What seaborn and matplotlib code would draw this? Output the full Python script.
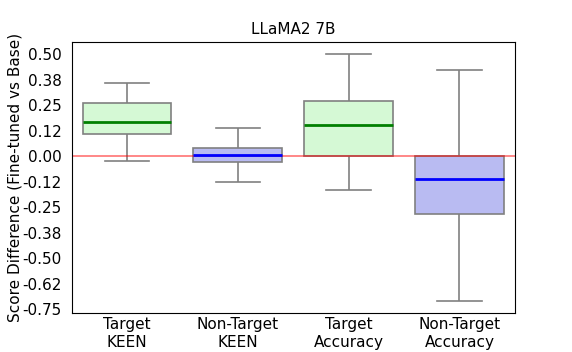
import numpy as np
import pandas as pd
import matplotlib
matplotlib.use("Agg")
import matplotlib.pyplot as plt
import seaborn as sns
from matplotlib.ticker import FixedLocator, FormatStrFormatter

plt.rcParams["axes.unicode_minus"] = False

# five-number summaries: [min, q1, median, q3, max]
categories = ["Target\nKEEN", "Non-Target\nKEEN", "Target\nAccuracy", "Non-Target\nAccuracy"]
target_keen = [-0.023, 0.108, 0.167, 0.261, 0.361]
nontarget_keen = [-0.126, -0.026, 0.006, 0.041, 0.139]
target_acc = [-0.165, 0.0, 0.155, 0.271, 0.500]
nontarget_acc = [-0.709, -0.281, -0.109, 0.0, 0.426]

yticks = np.linspace(-0.75, 0.5, 11)

df = pd.DataFrame({
    "metric": np.repeat(categories, 5),
    "diff": target_keen + nontarget_keen + target_acc + nontarget_acc,
})

fill = {categories[0]: "#d5f9d5", categories[1]: "#b9bbf2",
        categories[2]: "#d5f9d5", categories[3]: "#b9bbf2"}
med_col = ["green", "blue", "green", "blue"]

fig, ax = plt.subplots(figsize=(5.72, 3.52), dpi=100)
sns.boxplot(data=df, x="metric", y="diff", hue="metric", palette=fill, legend=False,
            whis=(0, 100), width=0.8, saturation=1, linecolor="gray", linewidth=1.2,
            medianprops={"linewidth": 2}, ax=ax)

# colour the median lines per box
meds = [l for l in ax.lines if len(l.get_xdata()) == 2 and l.get_ydata()[0] == l.get_ydata()[1]]
for i, data in enumerate([target_keen, nontarget_keen, target_acc, nontarget_acc]):
    for l in meds:
        if abs(l.get_ydata()[0] - data[2]) < 1e-9 and abs(np.mean(l.get_xdata()) - i) < 0.01:
            l.set_color(med_col[i])

ax.axhline(0, color="red", alpha=0.55, linewidth=1.2)
ax.set_ylim(-0.77, 0.56)
ax.yaxis.set_major_locator(FixedLocator(yticks))
ax.yaxis.set_major_formatter(FormatStrFormatter("%.2f"))
ax.tick_params(labelsize=11, length=0)
ax.tick_params(axis="x", pad=3)
ax.tick_params(axis="y", pad=7)
ax.set_xlabel("")
ax.set_ylabel("Score Difference (Fine-tuned vs Base)", fontsize=11, labelpad=0)
ax.set_title("LLaMA2 7B", fontsize=11)

fig.savefig("out.png", dpi=100)
